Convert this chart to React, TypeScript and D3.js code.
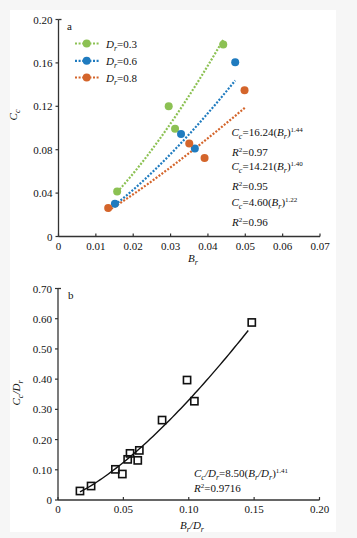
import React from "react";
import * as d3 from "d3";

// ---------- Panel a data ----------
const seriesNames = ["0.3", "0.6", "0.8"];
const seriesColors = ["#8cc153", "#1f7bbf", "#d4652b"];
const brValues = [
  [0.0157, 0.0295, 0.0312, 0.0441],
  [0.0151, 0.0328, 0.0365, 0.0473],
  [0.0133, 0.035, 0.0391, 0.0498],
];
const ccValues = [
  [0.0415, 0.12, 0.0994, 0.177],
  [0.0302, 0.0945, 0.081, 0.1607],
  [0.0262, 0.0856, 0.0724, 0.1348],
];
// fitted trend line (as drawn): coefficient, exponent, x range
const trendCoef = [16.24, 10.3, 4.6];
const trendExp = [1.44, 1.4, 1.22];
const trendFrom = [0.0157, 0.0151, 0.0133];
const trendTo = [0.0441, 0.0473, 0.05];
const aXTicks = [0, 0.01, 0.02, 0.03, 0.04, 0.05, 0.06, 0.07];
const aYTicks = [0, 0.04, 0.08, 0.12, 0.16, 0.2];
const eqCoefText = ["16.24", "14.21", "4.60"];
const eqExpText = ["1.44", "1.40", "1.22"];
const r2Text = ["0.97", "0.95", "0.96"];

// ---------- Panel b data ----------
const bX = [0.0168, 0.0253, 0.0439, 0.0492, 0.0533, 0.0551, 0.061, 0.0622, 0.0796, 0.0987, 0.1043, 0.1482];
const bY = [0.0298, 0.0463, 0.1015, 0.086, 0.1345, 0.1543, 0.1312, 0.1642, 0.2645, 0.397, 0.327, 0.5876];
const bFitCoef = 8.5;
const bFitExp = 1.41;
const bFitFrom = 0.0168;
const bFitTo = 0.1455;
const bXTicks = [0, 0.05, 0.1, 0.15, 0.2];
const bYTicks = [0, 0.1, 0.2, 0.3, 0.4, 0.5, 0.6, 0.7];

const FONT = "'Liberation Serif', 'DejaVu Serif', serif";
const AXIS = "#333";
const TXT = "#111";

function fmtA(v: number) {
  return v === 0 ? "0" : v.toFixed(2);
}

function sampleFit(a: number, b: number, x0: number, x1: number, n = 60) {
  const pts: [number, number][] = [];
  for (let i = 0; i <= n; i++) {
    const x = x0 + ((x1 - x0) * i) / n;
    pts.push([x, a * Math.pow(x, b)]);
  }
  return pts;
}

export default function App() {
  const ax = d3.scaleLinear().domain([0, 0.07]).range([58.5, 320]);
  const ay = d3.scaleLinear().domain([0, 0.2]).range([236.5, 19.5]);
  const bx = d3.scaleLinear().domain([0, 0.2]).range([58, 319.5]);
  const by = d3.scaleLinear().domain([0, 0.7]).range([500, 288.5]);

  const lineA = d3
    .line<[number, number]>()
    .x((d) => ax(d[0]))
    .y((d) => ay(d[1]));
  const lineB = d3
    .line<[number, number]>()
    .x((d) => bx(d[0]))
    .y((d) => by(d[1]));

  const legendY = [43.5, 60.8, 77.5];
  const eqY = [135.5, 155.5, 169.5, 189.5, 206.3, 226.3];

  return (
    <svg width={357} height={538} style={{ position: "absolute", left: 0, top: 0 }} fontFamily={FONT}>
      <rect x={0} y={0} width={357} height={538} fill="#f6f6f6" />
      <rect x={10} y={10} width={326} height={522} fill="#ffffff" />

      {/* ===== Panel a ===== */}
      <g>
        <line x1={ax(0)} x2={ax(0)} y1={ay(0)} y2={ay(0.2)} stroke={AXIS} strokeWidth={1.3} />
        <line x1={ax(0)} x2={ax(0.07)} y1={ay(0)} y2={ay(0)} stroke={AXIS} strokeWidth={1.3} />
        <line x1={ax(0)} x2={ax(0) + 3} y1={ay(0.2)} y2={ay(0.2)} stroke={AXIS} strokeWidth={1.3} />
        {aYTicks.map((t) => (
          <g key={"ay" + t}>
            <line x1={ax(0) - 3} x2={ax(0)} y1={ay(t)} y2={ay(t)} stroke={AXIS} strokeWidth={1.2} />
            <text x={ax(0) - 6} y={ay(t) + 4} textAnchor="end" fontSize={11} fill={TXT}>
              {fmtA(t)}
            </text>
          </g>
        ))}
        {aXTicks.map((t) => (
          <g key={"ax" + t}>
            <line x1={ax(t)} x2={ax(t)} y1={ay(0)} y2={ay(0) - 3} stroke={AXIS} strokeWidth={1.2} />
            <text x={ax(t)} y={ay(0) + 13} textAnchor="middle" fontSize={11} fill={TXT}>
              {fmtA(t)}
            </text>
          </g>
        ))}
        <text x={67} y={30} fontSize={11} fill={TXT}>a</text>
        <text x={193} y={262} textAnchor="middle" fontSize={11} fill={TXT} fontStyle="italic">
          <tspan>B</tspan>
          <tspan dy={3} fontSize={8}>r</tspan>
        </text>
        <text transform="translate(17,115) rotate(-90)" textAnchor="middle" fontSize={11} fill={TXT} fontStyle="italic">
          <tspan>C</tspan>
          <tspan dy={3} fontSize={8}>c</tspan>
        </text>

        {seriesNames.map((_, i) => (
          <path
            key={"tl" + i}
            d={lineA(sampleFit(trendCoef[i], trendExp[i], trendFrom[i], trendTo[i])) || ""}
            fill="none"
            stroke={seriesColors[i]}
            strokeWidth={2.2}
            strokeDasharray="2 1.6"
          />
        ))}
        {seriesNames.map((_, i) =>
          brValues[i].map((xv, j) => (
            <circle key={"p" + i + "-" + j} cx={ax(xv)} cy={ay(ccValues[i][j])} r={4} fill={seriesColors[i]} />
          ))
        )}

        {seriesNames.map((n, i) => (
          <g key={"lg" + i}>
            <line x1={75} x2={100} y1={legendY[i]} y2={legendY[i]} stroke={seriesColors[i]} strokeWidth={2.2} strokeDasharray="2 1.6" />
            <circle cx={86.7} cy={legendY[i]} r={4} fill={seriesColors[i]} />
            <text x={106} y={legendY[i] + 4} fontSize={11} fill={TXT}>
              <tspan fontStyle="italic">D</tspan>
              <tspan dy={3} fontSize={8} fontStyle="italic">r</tspan>
              <tspan dy={-3}>={n}</tspan>
            </text>
          </g>
        ))}

        {eqCoefText.map((c, i) => (
          <g key={"eq" + i}>
            <text x={231.5} y={eqY[i * 2]} fontSize={11} fill={TXT}>
              <tspan fontStyle="italic">C</tspan>
              <tspan dy={3} fontSize={8} fontStyle="italic">c</tspan>
              <tspan dy={-3}>={c}(</tspan>
              <tspan fontStyle="italic">B</tspan>
              <tspan dy={3} fontSize={8} fontStyle="italic">r</tspan>
              <tspan dy={-3}>)</tspan>
              <tspan dy={-4} fontSize={7}>{eqExpText[i]}</tspan>
            </text>
            <text x={232} y={eqY[i * 2 + 1]} fontSize={11} fill={TXT}>
              <tspan fontStyle="italic">R</tspan>
              <tspan dy={-4} fontSize={7}>2</tspan>
              <tspan dy={4}>={r2Text[i]}</tspan>
            </text>
          </g>
        ))}
      </g>

      {/* ===== Panel b ===== */}
      <g>
        <line x1={bx(0)} x2={bx(0)} y1={by(0)} y2={by(0.7)} stroke={AXIS} strokeWidth={1.3} />
        <line x1={bx(0)} x2={bx(0.2)} y1={by(0)} y2={by(0)} stroke={AXIS} strokeWidth={1.3} />
        <line x1={bx(0)} x2={bx(0) + 3} y1={by(0.7)} y2={by(0.7)} stroke={AXIS} strokeWidth={1.3} />
        {bYTicks.map((t) => (
          <g key={"by" + t}>
            <line x1={bx(0) - 3} x2={bx(0)} y1={by(t)} y2={by(t)} stroke={AXIS} strokeWidth={1.2} />
            <text x={bx(0) - 6} y={by(t) + 4} textAnchor="end" fontSize={11} fill={TXT}>
              {t === 0 ? "0" : t.toFixed(2)}
            </text>
          </g>
        ))}
        {bXTicks.map((t) => (
          <g key={"bx" + t}>
            <line x1={bx(t)} x2={bx(t)} y1={by(0)} y2={by(0) - 3} stroke={AXIS} strokeWidth={1.2} />
            <text x={bx(t)} y={by(0) + 13} textAnchor="middle" fontSize={11} fill={TXT}>
              {t === 0 ? "0" : t.toFixed(2)}
            </text>
          </g>
        ))}
        <text x={68} y={299} fontSize={11} fill={TXT}>b</text>
        <text x={192} y={529} textAnchor="middle" fontSize={11} fill={TXT}>
          <tspan fontStyle="italic">B</tspan>
          <tspan dy={3} fontSize={8} fontStyle="italic">r</tspan>
          <tspan dy={-3} fontStyle="italic">/D</tspan>
          <tspan dy={3} fontSize={8} fontStyle="italic">r</tspan>
        </text>
        <text transform="translate(20,393) rotate(-90)" textAnchor="middle" fontSize={11} fill={TXT}>
          <tspan fontStyle="italic">C</tspan>
          <tspan dy={3} fontSize={8} fontStyle="italic">c</tspan>
          <tspan dy={-3} fontStyle="italic">/D</tspan>
          <tspan dy={3} fontSize={8} fontStyle="italic">r</tspan>
        </text>

        <path
          d={lineB(sampleFit(bFitCoef, bFitExp, bFitFrom, bFitTo)) || ""}
          fill="none"
          stroke="#111"
          strokeWidth={1.4}
        />
        {bX.map((xv, i) => (
          <rect
            key={"sq" + i}
            x={bx(xv) - 3.6}
            y={by(bY[i]) - 3.6}
            width={7.2}
            height={7.2}
            fill="none"
            stroke="#111"
            strokeWidth={1.6}
          />
        ))}

        <text x={194} y={477} fontSize={11} fill={TXT}>
          <tspan fontStyle="italic">C</tspan>
          <tspan dy={3} fontSize={8} fontStyle="italic">c</tspan>
          <tspan dy={-3} fontStyle="italic">/D</tspan>
          <tspan dy={3} fontSize={8} fontStyle="italic">r</tspan>
          <tspan dy={-3}>=8.50(</tspan>
          <tspan fontStyle="italic">B</tspan>
          <tspan dy={3} fontSize={8} fontStyle="italic">r</tspan>
          <tspan dy={-3} fontStyle="italic">/D</tspan>
          <tspan dy={3} fontSize={8} fontStyle="italic">r</tspan>
          <tspan dy={-3}>)</tspan>
          <tspan dy={-4} fontSize={7}>1.41</tspan>
        </text>
        <text x={194} y={492} fontSize={11} fill={TXT}>
          <tspan fontStyle="italic">R</tspan>
          <tspan dy={-4} fontSize={7}>2</tspan>
          <tspan dy={4}>=0.9716</tspan>
        </text>
      </g>
    </svg>
  );
}
